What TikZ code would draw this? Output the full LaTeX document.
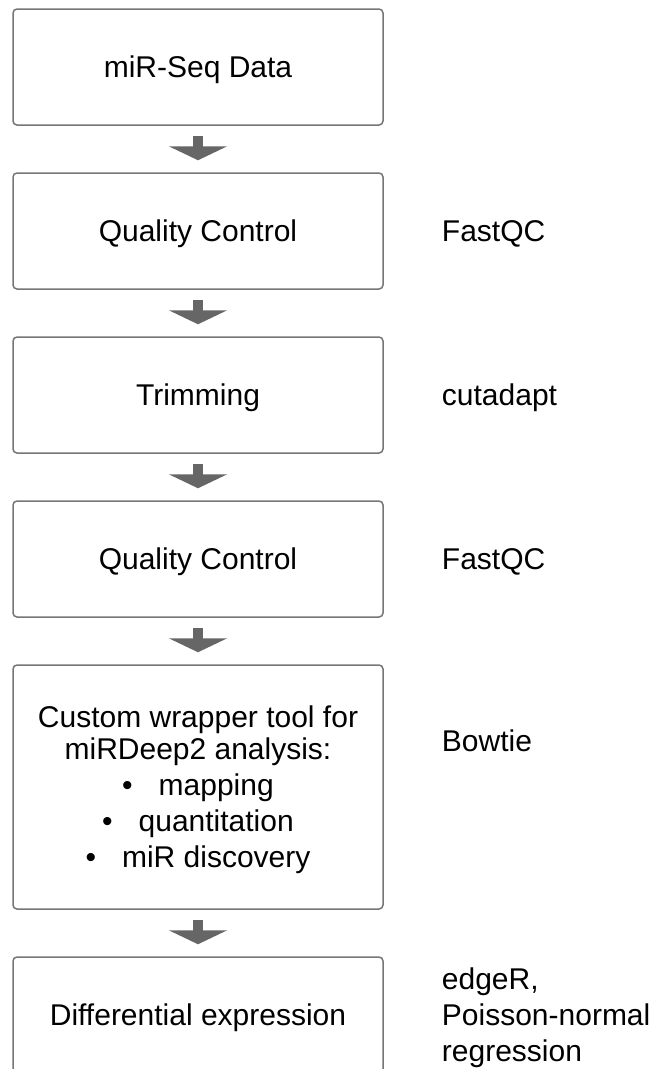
\documentclass[tikz,border=0pt]{standalone}
\usepackage{fontspec}
\setmainfont{Liberation Sans}
\usetikzlibrary{arrows.meta, positioning}
\definecolor{boxGray}{RGB}{118,118,118}
\definecolor{arrowGray}{RGB}{102,102,102}
\tikzstyle{block} = [draw=boxGray, line width=1.5pt, fill=white, rectangle, rounded corners=4pt, minimum width=370pt, minimum height=116pt, align=center, text depth=0pt, font=\fontsize{30}{36}\selectfont]
\tikzstyle{tool} = [inner sep=0pt, align=left, text depth=0pt, font=\fontsize{30}{36}\selectfont]
\tikzstyle{flow} = [draw=arrowGray, line width=10pt, shorten <=10pt, shorten >=12pt, -{Triangle[width=58pt,length=14pt]}]

\begin{document}
\begin{tikzpicture}[x=1pt, y=1pt, node distance=46.5pt]
    \useasboundingbox (0,0) rectangle (654,-1069);
    \clip (0,0) rectangle (654,-1069);
    % We start by placing the blocks
    \node [block] (seqData) at (198,-67) {miR-Seq Data};
    \node [block, below=of seqData] (qualCtrlA) {Quality Control};
    \node [block, below=of qualCtrlA] (trimming) {Trimming};
    \node [block, below=of trimming] (qualCtrlB) {Quality Control};
    \node [block, below=of qualCtrlB, minimum height=244pt] (wrapper) {Custom wrapper tool for\\[-4pt] miRDeep2 analysis:\\ \textbullet\hspace{26pt}mapping\\ \textbullet\hspace{26pt}quantitation\\ \textbullet\hspace{26pt}miR discovery};
    \node [block, below=of wrapper] (diffExpr) {Differential expression};

    % The tools sit to the right of their blocks
    \node [tool, right=58pt of qualCtrlA] (fastqcA) {FastQC};
    \node [tool, right=58pt of trimming] (cutadapt) {cutadapt};
    \node [tool, right=58pt of qualCtrlB] (fastqcB) {FastQC};
    \node [tool, right=58pt of wrapper, yshift=46pt] (bowtie) {Bowtie};
    \node [tool, right=58pt of diffExpr] (edgeR) {edgeR,\\ Poisson-normal\\ regression};

    % Block arrows between the steps
    \draw [flow] (seqData) -- (qualCtrlA);
    \draw [flow] (qualCtrlA) -- (trimming);
    \draw [flow] (trimming) -- (qualCtrlB);
    \draw [flow] (qualCtrlB) -- (wrapper);
    \draw [flow] (wrapper) -- (diffExpr);
\end{tikzpicture}
\end{document}
